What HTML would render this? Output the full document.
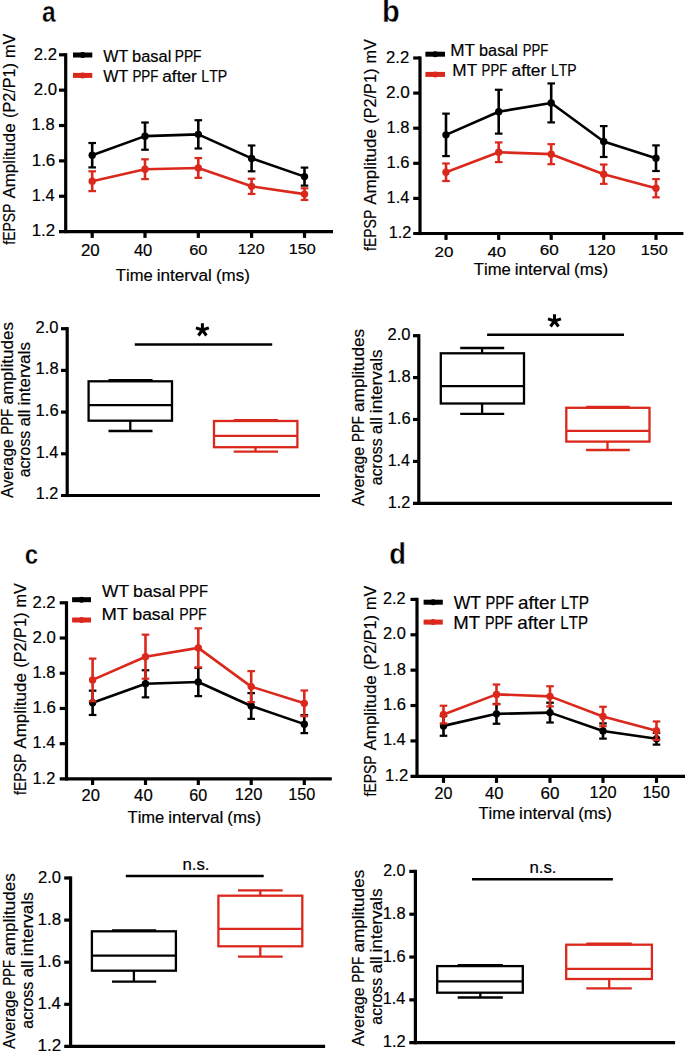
<!DOCTYPE html>
<html><head><meta charset="utf-8"><style>
html,body{margin:0;padding:0;background:#fff;}
svg{display:block;}
text{font-family:"Liberation Sans",sans-serif;font-kerning:none;stroke:currentColor;stroke-width:0.18px;}
text.b{stroke:#fff;stroke-width:0.4px;}
</style></head><body>
<svg width="685" height="1051" viewBox="0 0 685 1051">
<rect width="685" height="1051" fill="#fff"/>
<line x1="65.70" y1="53.20" x2="65.70" y2="233.20" stroke="#000" stroke-width="3.2" stroke-linecap="butt"/>
<line x1="59.00" y1="54.80" x2="65.70" y2="54.80" stroke="#000" stroke-width="3.2" stroke-linecap="butt"/>
<line x1="59.00" y1="90.16" x2="65.70" y2="90.16" stroke="#000" stroke-width="3.2" stroke-linecap="butt"/>
<line x1="59.00" y1="125.52" x2="65.70" y2="125.52" stroke="#000" stroke-width="3.2" stroke-linecap="butt"/>
<line x1="59.00" y1="160.88" x2="65.70" y2="160.88" stroke="#000" stroke-width="3.2" stroke-linecap="butt"/>
<line x1="59.00" y1="196.24" x2="65.70" y2="196.24" stroke="#000" stroke-width="3.2" stroke-linecap="butt"/>
<line x1="59.00" y1="231.60" x2="333.00" y2="231.60" stroke="#000" stroke-width="3.2" stroke-linecap="butt"/>
<line x1="92.20" y1="231.60" x2="92.20" y2="237.90" stroke="#000" stroke-width="3.2" stroke-linecap="butt"/>
<line x1="145.00" y1="231.60" x2="145.00" y2="237.90" stroke="#000" stroke-width="3.2" stroke-linecap="butt"/>
<line x1="198.30" y1="231.60" x2="198.30" y2="237.90" stroke="#000" stroke-width="3.2" stroke-linecap="butt"/>
<line x1="251.60" y1="231.60" x2="251.60" y2="237.90" stroke="#000" stroke-width="3.2" stroke-linecap="butt"/>
<line x1="304.50" y1="231.60" x2="304.50" y2="237.90" stroke="#000" stroke-width="3.2" stroke-linecap="butt"/>
<text x="33.76" y="59.55" font-size="16.13" textLength="23.18" lengthAdjust="spacingAndGlyphs" fill="#000" color="#000">2.2</text>
<text x="33.75" y="94.91" font-size="16.13" textLength="23.40" lengthAdjust="spacingAndGlyphs" fill="#000" color="#000">2.0</text>
<text x="31.64" y="130.27" font-size="16.13" textLength="22.98" lengthAdjust="spacingAndGlyphs" fill="#000" color="#000">1.8</text>
<text x="31.70" y="165.63" font-size="16.13" textLength="23.64" lengthAdjust="spacingAndGlyphs" fill="#000" color="#000">1.6</text>
<text x="31.75" y="200.99" font-size="16.13" textLength="22.83" lengthAdjust="spacingAndGlyphs" fill="#000" color="#000">1.4</text>
<text x="31.72" y="236.35" font-size="16.13" textLength="23.43" lengthAdjust="spacingAndGlyphs" fill="#000" color="#000">1.2</text>
<text x="80.95" y="255.70" font-size="15.99" textLength="18.81" lengthAdjust="spacingAndGlyphs" fill="#000" color="#000">20</text>
<text x="133.92" y="255.70" font-size="15.99" textLength="18.43" lengthAdjust="spacingAndGlyphs" fill="#000" color="#000">40</text>
<text x="189.17" y="255.30" font-size="15.41" textLength="18.28" lengthAdjust="spacingAndGlyphs" fill="#000" color="#000">60</text>
<text x="237.88" y="253.70" font-size="15.41" textLength="26.75" lengthAdjust="spacingAndGlyphs" fill="#000" color="#000">120</text>
<text x="288.66" y="253.70" font-size="14.68" textLength="27.07" lengthAdjust="spacingAndGlyphs" fill="#000" color="#000">150</text>
<line x1="73.00" y1="55.00" x2="92.30" y2="55.00" stroke="#000" stroke-width="5.0" stroke-linecap="butt"/>
<line x1="73.00" y1="75.40" x2="92.30" y2="75.40" stroke="#da291c" stroke-width="5.0" stroke-linecap="butt"/>
<circle cx="82.65" cy="55.00" r="3.0" fill="#000"/>
<circle cx="82.65" cy="75.40" r="3.0" fill="#da291c"/>
<text x="103.23" y="61.70" font-size="16.42" textLength="25.04" lengthAdjust="spacingAndGlyphs" fill="#000" color="#000">WT</text>
<text x="132.04" y="61.70" font-size="16.42" textLength="39.36" lengthAdjust="spacingAndGlyphs" fill="#000" color="#000">basal</text>
<text x="174.67" y="61.70" font-size="16.42" textLength="26.89" lengthAdjust="spacingAndGlyphs" fill="#000" color="#000">PPF</text>
<text x="103.23" y="81.90" font-size="16.42" textLength="25.04" lengthAdjust="spacingAndGlyphs" fill="#000" color="#000">WT</text>
<text x="132.40" y="81.90" font-size="16.42" textLength="26.03" lengthAdjust="spacingAndGlyphs" fill="#000" color="#000">PPF</text>
<text x="162.26" y="81.90" font-size="16.42" textLength="34.62" lengthAdjust="spacingAndGlyphs" fill="#000" color="#000">after</text>
<text x="201.34" y="81.90" font-size="16.42" textLength="25.90" lengthAdjust="spacingAndGlyphs" fill="#000" color="#000">LTP</text>
<polyline points="92.20,155.22 145.00,136.13 198.30,134.36 251.60,158.40 304.50,176.62" fill="none" stroke="#000" stroke-width="2.6" stroke-linejoin="round"/>
<line x1="92.20" y1="143.02" x2="92.20" y2="167.42" stroke="#000" stroke-width="2.6" stroke-linecap="butt"/>
<line x1="88.40" y1="143.02" x2="96.00" y2="143.02" stroke="#000" stroke-width="2.2" stroke-linecap="butt"/>
<line x1="88.40" y1="167.42" x2="96.00" y2="167.42" stroke="#000" stroke-width="2.2" stroke-linecap="butt"/>
<circle cx="92.20" cy="155.22" r="3.7" fill="#000"/>
<line x1="145.00" y1="122.51" x2="145.00" y2="149.74" stroke="#000" stroke-width="2.6" stroke-linecap="butt"/>
<line x1="141.20" y1="122.51" x2="148.80" y2="122.51" stroke="#000" stroke-width="2.2" stroke-linecap="butt"/>
<line x1="141.20" y1="149.74" x2="148.80" y2="149.74" stroke="#000" stroke-width="2.2" stroke-linecap="butt"/>
<circle cx="145.00" cy="136.13" r="3.7" fill="#000"/>
<line x1="198.30" y1="120.22" x2="198.30" y2="148.50" stroke="#000" stroke-width="2.6" stroke-linecap="butt"/>
<line x1="194.50" y1="120.22" x2="202.10" y2="120.22" stroke="#000" stroke-width="2.2" stroke-linecap="butt"/>
<line x1="194.50" y1="148.50" x2="202.10" y2="148.50" stroke="#000" stroke-width="2.2" stroke-linecap="butt"/>
<circle cx="198.30" cy="134.36" r="3.7" fill="#000"/>
<line x1="251.60" y1="145.50" x2="251.60" y2="171.31" stroke="#000" stroke-width="2.6" stroke-linecap="butt"/>
<line x1="247.80" y1="145.50" x2="255.40" y2="145.50" stroke="#000" stroke-width="2.2" stroke-linecap="butt"/>
<line x1="247.80" y1="171.31" x2="255.40" y2="171.31" stroke="#000" stroke-width="2.2" stroke-linecap="butt"/>
<circle cx="251.60" cy="158.40" r="3.7" fill="#000"/>
<line x1="304.50" y1="167.60" x2="304.50" y2="185.63" stroke="#000" stroke-width="2.6" stroke-linecap="butt"/>
<line x1="300.70" y1="167.60" x2="308.30" y2="167.60" stroke="#000" stroke-width="2.2" stroke-linecap="butt"/>
<line x1="300.70" y1="185.63" x2="308.30" y2="185.63" stroke="#000" stroke-width="2.2" stroke-linecap="butt"/>
<circle cx="304.50" cy="176.62" r="3.7" fill="#000"/>
<polyline points="92.20,181.21 145.00,169.19 198.30,167.95 251.60,186.34 304.50,194.12" fill="none" stroke="#da291c" stroke-width="2.6" stroke-linejoin="round"/>
<line x1="92.20" y1="171.31" x2="92.20" y2="191.11" stroke="#da291c" stroke-width="2.6" stroke-linecap="butt"/>
<line x1="88.40" y1="171.31" x2="96.00" y2="171.31" stroke="#da291c" stroke-width="2.2" stroke-linecap="butt"/>
<line x1="88.40" y1="191.11" x2="96.00" y2="191.11" stroke="#da291c" stroke-width="2.2" stroke-linecap="butt"/>
<circle cx="92.20" cy="181.21" r="3.7" fill="#da291c"/>
<line x1="145.00" y1="159.29" x2="145.00" y2="179.09" stroke="#da291c" stroke-width="2.6" stroke-linecap="butt"/>
<line x1="141.20" y1="159.29" x2="148.80" y2="159.29" stroke="#da291c" stroke-width="2.2" stroke-linecap="butt"/>
<line x1="141.20" y1="179.09" x2="148.80" y2="179.09" stroke="#da291c" stroke-width="2.2" stroke-linecap="butt"/>
<circle cx="145.00" cy="169.19" r="3.7" fill="#da291c"/>
<line x1="198.30" y1="158.05" x2="198.30" y2="177.85" stroke="#da291c" stroke-width="2.6" stroke-linecap="butt"/>
<line x1="194.50" y1="158.05" x2="202.10" y2="158.05" stroke="#da291c" stroke-width="2.2" stroke-linecap="butt"/>
<line x1="194.50" y1="177.85" x2="202.10" y2="177.85" stroke="#da291c" stroke-width="2.2" stroke-linecap="butt"/>
<circle cx="198.30" cy="167.95" r="3.7" fill="#da291c"/>
<line x1="251.60" y1="178.74" x2="251.60" y2="193.94" stroke="#da291c" stroke-width="2.6" stroke-linecap="butt"/>
<line x1="247.80" y1="178.74" x2="255.40" y2="178.74" stroke="#da291c" stroke-width="2.2" stroke-linecap="butt"/>
<line x1="247.80" y1="193.94" x2="255.40" y2="193.94" stroke="#da291c" stroke-width="2.2" stroke-linecap="butt"/>
<circle cx="251.60" cy="186.34" r="3.7" fill="#da291c"/>
<line x1="304.50" y1="188.28" x2="304.50" y2="199.95" stroke="#da291c" stroke-width="2.6" stroke-linecap="butt"/>
<line x1="300.70" y1="188.28" x2="308.30" y2="188.28" stroke="#da291c" stroke-width="2.2" stroke-linecap="butt"/>
<line x1="300.70" y1="199.95" x2="308.30" y2="199.95" stroke="#da291c" stroke-width="2.2" stroke-linecap="butt"/>
<circle cx="304.50" cy="194.12" r="3.7" fill="#da291c"/>
<text x="115.83" y="280.80" font-size="16.42" textLength="36.91" lengthAdjust="spacingAndGlyphs" fill="#000" color="#000">Time</text>
<text x="156.65" y="280.80" font-size="16.42" textLength="55.29" lengthAdjust="spacingAndGlyphs" fill="#000" color="#000">interval</text>
<text x="215.95" y="280.80" font-size="16.42" textLength="33.90" lengthAdjust="spacingAndGlyphs" fill="#000" color="#000">(ms)</text>
<text transform="translate(15.20,244.50) rotate(-90)" x="-0.20" y="0" font-size="15.84" textLength="41.13" lengthAdjust="spacingAndGlyphs" fill="#000" color="#000">fEPSP</text>
<text transform="translate(15.20,198.60) rotate(-90)" x="-0.03" y="0" font-size="15.84" textLength="75.29" lengthAdjust="spacingAndGlyphs" fill="#000" color="#000">Amplitude</text>
<text transform="translate(15.20,117.00) rotate(-90)" x="-1.01" y="0" font-size="15.84" textLength="55.01" lengthAdjust="spacingAndGlyphs" fill="#000" color="#000">(P2/P1)</text>
<text transform="translate(15.20,56.90) rotate(-90)" x="-1.07" y="0" font-size="15.84" textLength="24.24" lengthAdjust="spacingAndGlyphs" fill="#000" color="#000">mV</text>
<text x="41.88" y="21.90" font-size="29.53" font-weight="bold" class="b" textLength="13.66" lengthAdjust="spacingAndGlyphs" fill="#000" color="#000">a</text>
<line x1="420.00" y1="56.40" x2="420.00" y2="235.10" stroke="#000" stroke-width="3.2" stroke-linecap="butt"/>
<line x1="413.20" y1="58.00" x2="420.00" y2="58.00" stroke="#000" stroke-width="3.2" stroke-linecap="butt"/>
<line x1="413.20" y1="93.10" x2="420.00" y2="93.10" stroke="#000" stroke-width="3.2" stroke-linecap="butt"/>
<line x1="413.20" y1="128.20" x2="420.00" y2="128.20" stroke="#000" stroke-width="3.2" stroke-linecap="butt"/>
<line x1="413.20" y1="163.30" x2="420.00" y2="163.30" stroke="#000" stroke-width="3.2" stroke-linecap="butt"/>
<line x1="413.20" y1="198.40" x2="420.00" y2="198.40" stroke="#000" stroke-width="3.2" stroke-linecap="butt"/>
<line x1="413.20" y1="233.50" x2="683.40" y2="233.50" stroke="#000" stroke-width="3.2" stroke-linecap="butt"/>
<line x1="446.00" y1="233.50" x2="446.00" y2="239.90" stroke="#000" stroke-width="3.2" stroke-linecap="butt"/>
<line x1="498.70" y1="233.50" x2="498.70" y2="239.90" stroke="#000" stroke-width="3.2" stroke-linecap="butt"/>
<line x1="551.20" y1="233.50" x2="551.20" y2="239.90" stroke="#000" stroke-width="3.2" stroke-linecap="butt"/>
<line x1="603.70" y1="233.50" x2="603.70" y2="239.90" stroke="#000" stroke-width="3.2" stroke-linecap="butt"/>
<line x1="656.00" y1="233.50" x2="656.00" y2="239.90" stroke="#000" stroke-width="3.2" stroke-linecap="butt"/>
<text x="386.06" y="62.65" font-size="16.13" textLength="23.18" lengthAdjust="spacingAndGlyphs" fill="#000" color="#000">2.2</text>
<text x="386.04" y="97.75" font-size="16.13" textLength="23.83" lengthAdjust="spacingAndGlyphs" fill="#000" color="#000">2.0</text>
<text x="386.54" y="132.85" font-size="16.13" textLength="22.98" lengthAdjust="spacingAndGlyphs" fill="#000" color="#000">1.8</text>
<text x="386.54" y="167.95" font-size="16.13" textLength="22.99" lengthAdjust="spacingAndGlyphs" fill="#000" color="#000">1.6</text>
<text x="386.55" y="203.05" font-size="16.13" textLength="22.72" lengthAdjust="spacingAndGlyphs" fill="#000" color="#000">1.4</text>
<text x="388.66" y="238.15" font-size="16.13" textLength="22.66" lengthAdjust="spacingAndGlyphs" fill="#000" color="#000">1.2</text>
<text x="434.44" y="257.10" font-size="15.41" textLength="18.92" lengthAdjust="spacingAndGlyphs" fill="#000" color="#000">20</text>
<text x="487.42" y="257.10" font-size="14.83" textLength="18.64" lengthAdjust="spacingAndGlyphs" fill="#000" color="#000">40</text>
<text x="539.73" y="254.50" font-size="14.68" textLength="19.04" lengthAdjust="spacingAndGlyphs" fill="#000" color="#000">60</text>
<text x="587.73" y="254.80" font-size="15.41" textLength="27.71" lengthAdjust="spacingAndGlyphs" fill="#000" color="#000">120</text>
<text x="640.76" y="254.80" font-size="15.41" textLength="27.07" lengthAdjust="spacingAndGlyphs" fill="#000" color="#000">150</text>
<line x1="425.40" y1="54.20" x2="445.00" y2="54.20" stroke="#000" stroke-width="5.0" stroke-linecap="butt"/>
<line x1="425.40" y1="74.40" x2="445.00" y2="74.40" stroke="#da291c" stroke-width="5.0" stroke-linecap="butt"/>
<circle cx="435.20" cy="54.20" r="3.0" fill="#000"/>
<circle cx="435.20" cy="74.40" r="3.0" fill="#da291c"/>
<text x="450.19" y="56.10" font-size="16.13" textLength="24.80" lengthAdjust="spacingAndGlyphs" fill="#000" color="#000">MT</text>
<text x="479.05" y="56.10" font-size="16.13" textLength="38.94" lengthAdjust="spacingAndGlyphs" fill="#000" color="#000">basal</text>
<text x="522.72" y="56.10" font-size="16.13" textLength="25.61" lengthAdjust="spacingAndGlyphs" fill="#000" color="#000">PPF</text>
<text x="452.39" y="76.10" font-size="16.13" textLength="24.80" lengthAdjust="spacingAndGlyphs" fill="#000" color="#000">MT</text>
<text x="481.62" y="76.10" font-size="16.13" textLength="25.61" lengthAdjust="spacingAndGlyphs" fill="#000" color="#000">PPF</text>
<text x="511.46" y="76.10" font-size="16.13" textLength="34.83" lengthAdjust="spacingAndGlyphs" fill="#000" color="#000">after</text>
<text x="551.06" y="76.10" font-size="16.13" textLength="25.58" lengthAdjust="spacingAndGlyphs" fill="#000" color="#000">LTP</text>
<polyline points="446.00,134.87 498.70,111.70 551.20,102.93 603.70,141.54 656.00,158.21" fill="none" stroke="#000" stroke-width="2.6" stroke-linejoin="round"/>
<line x1="446.00" y1="113.63" x2="446.00" y2="156.10" stroke="#000" stroke-width="2.6" stroke-linecap="butt"/>
<line x1="442.20" y1="113.63" x2="449.80" y2="113.63" stroke="#000" stroke-width="2.2" stroke-linecap="butt"/>
<line x1="442.20" y1="156.10" x2="449.80" y2="156.10" stroke="#000" stroke-width="2.2" stroke-linecap="butt"/>
<circle cx="446.00" cy="134.87" r="3.7" fill="#000"/>
<line x1="498.70" y1="89.77" x2="498.70" y2="133.64" stroke="#000" stroke-width="2.6" stroke-linecap="butt"/>
<line x1="494.90" y1="89.77" x2="502.50" y2="89.77" stroke="#000" stroke-width="2.2" stroke-linecap="butt"/>
<line x1="494.90" y1="133.64" x2="502.50" y2="133.64" stroke="#000" stroke-width="2.2" stroke-linecap="butt"/>
<circle cx="498.70" cy="111.70" r="3.7" fill="#000"/>
<line x1="551.20" y1="83.45" x2="551.20" y2="122.41" stroke="#000" stroke-width="2.6" stroke-linecap="butt"/>
<line x1="547.40" y1="83.45" x2="555.00" y2="83.45" stroke="#000" stroke-width="2.2" stroke-linecap="butt"/>
<line x1="547.40" y1="122.41" x2="555.00" y2="122.41" stroke="#000" stroke-width="2.2" stroke-linecap="butt"/>
<circle cx="551.20" cy="102.93" r="3.7" fill="#000"/>
<line x1="603.70" y1="126.09" x2="603.70" y2="156.98" stroke="#000" stroke-width="2.6" stroke-linecap="butt"/>
<line x1="599.90" y1="126.09" x2="607.50" y2="126.09" stroke="#000" stroke-width="2.2" stroke-linecap="butt"/>
<line x1="599.90" y1="156.98" x2="607.50" y2="156.98" stroke="#000" stroke-width="2.2" stroke-linecap="butt"/>
<circle cx="603.70" cy="141.54" r="3.7" fill="#000"/>
<line x1="656.00" y1="145.40" x2="656.00" y2="171.02" stroke="#000" stroke-width="2.6" stroke-linecap="butt"/>
<line x1="652.20" y1="145.40" x2="659.80" y2="145.40" stroke="#000" stroke-width="2.2" stroke-linecap="butt"/>
<line x1="652.20" y1="171.02" x2="659.80" y2="171.02" stroke="#000" stroke-width="2.2" stroke-linecap="butt"/>
<circle cx="656.00" cy="158.21" r="3.7" fill="#000"/>
<polyline points="446.00,172.25 498.70,152.24 551.20,154.17 603.70,174.18 656.00,188.22" fill="none" stroke="#da291c" stroke-width="2.6" stroke-linejoin="round"/>
<line x1="446.00" y1="163.48" x2="446.00" y2="181.03" stroke="#da291c" stroke-width="2.6" stroke-linecap="butt"/>
<line x1="442.20" y1="163.48" x2="449.80" y2="163.48" stroke="#da291c" stroke-width="2.2" stroke-linecap="butt"/>
<line x1="442.20" y1="181.03" x2="449.80" y2="181.03" stroke="#da291c" stroke-width="2.2" stroke-linecap="butt"/>
<circle cx="446.00" cy="172.25" r="3.7" fill="#da291c"/>
<line x1="498.70" y1="142.42" x2="498.70" y2="162.07" stroke="#da291c" stroke-width="2.6" stroke-linecap="butt"/>
<line x1="494.90" y1="142.42" x2="502.50" y2="142.42" stroke="#da291c" stroke-width="2.2" stroke-linecap="butt"/>
<line x1="494.90" y1="162.07" x2="502.50" y2="162.07" stroke="#da291c" stroke-width="2.2" stroke-linecap="butt"/>
<circle cx="498.70" cy="152.24" r="3.7" fill="#da291c"/>
<line x1="551.20" y1="144.17" x2="551.20" y2="164.18" stroke="#da291c" stroke-width="2.6" stroke-linecap="butt"/>
<line x1="547.40" y1="144.17" x2="555.00" y2="144.17" stroke="#da291c" stroke-width="2.2" stroke-linecap="butt"/>
<line x1="547.40" y1="164.18" x2="555.00" y2="164.18" stroke="#da291c" stroke-width="2.2" stroke-linecap="butt"/>
<circle cx="551.20" cy="154.17" r="3.7" fill="#da291c"/>
<line x1="603.70" y1="164.53" x2="603.70" y2="183.83" stroke="#da291c" stroke-width="2.6" stroke-linecap="butt"/>
<line x1="599.90" y1="164.53" x2="607.50" y2="164.53" stroke="#da291c" stroke-width="2.2" stroke-linecap="butt"/>
<line x1="599.90" y1="183.83" x2="607.50" y2="183.83" stroke="#da291c" stroke-width="2.2" stroke-linecap="butt"/>
<circle cx="603.70" cy="174.18" r="3.7" fill="#da291c"/>
<line x1="656.00" y1="179.09" x2="656.00" y2="197.35" stroke="#da291c" stroke-width="2.6" stroke-linecap="butt"/>
<line x1="652.20" y1="179.09" x2="659.80" y2="179.09" stroke="#da291c" stroke-width="2.2" stroke-linecap="butt"/>
<line x1="652.20" y1="197.35" x2="659.80" y2="197.35" stroke="#da291c" stroke-width="2.2" stroke-linecap="butt"/>
<circle cx="656.00" cy="188.22" r="3.7" fill="#da291c"/>
<text x="473.83" y="275.10" font-size="16.28" textLength="36.97" lengthAdjust="spacingAndGlyphs" fill="#000" color="#000">Time</text>
<text x="514.71" y="275.10" font-size="16.28" textLength="55.38" lengthAdjust="spacingAndGlyphs" fill="#000" color="#000">interval</text>
<text x="574.10" y="275.10" font-size="16.28" textLength="33.95" lengthAdjust="spacingAndGlyphs" fill="#000" color="#000">(ms)</text>
<text transform="translate(375.60,250.80) rotate(-90)" x="-0.20" y="0" font-size="15.99" textLength="41.31" lengthAdjust="spacingAndGlyphs" fill="#000" color="#000">fEPSP</text>
<text transform="translate(375.60,204.70) rotate(-90)" x="-0.03" y="0" font-size="15.99" textLength="75.61" lengthAdjust="spacingAndGlyphs" fill="#000" color="#000">Amplitude</text>
<text transform="translate(375.60,122.76) rotate(-90)" x="-1.01" y="0" font-size="15.99" textLength="55.25" lengthAdjust="spacingAndGlyphs" fill="#000" color="#000">(P2/P1)</text>
<text transform="translate(375.60,62.40) rotate(-90)" x="-1.08" y="0" font-size="15.99" textLength="24.35" lengthAdjust="spacingAndGlyphs" fill="#000" color="#000">mV</text>
<text x="382.09" y="21.90" font-size="31.83" font-weight="bold" class="b" textLength="17.70" lengthAdjust="spacingAndGlyphs" fill="#000" color="#000">b</text>
<line x1="66.50" y1="601.20" x2="66.50" y2="780.50" stroke="#000" stroke-width="3.2" stroke-linecap="butt"/>
<line x1="59.70" y1="602.80" x2="66.50" y2="602.80" stroke="#000" stroke-width="3.2" stroke-linecap="butt"/>
<line x1="59.70" y1="638.02" x2="66.50" y2="638.02" stroke="#000" stroke-width="3.2" stroke-linecap="butt"/>
<line x1="59.70" y1="673.24" x2="66.50" y2="673.24" stroke="#000" stroke-width="3.2" stroke-linecap="butt"/>
<line x1="59.70" y1="708.46" x2="66.50" y2="708.46" stroke="#000" stroke-width="3.2" stroke-linecap="butt"/>
<line x1="59.70" y1="743.68" x2="66.50" y2="743.68" stroke="#000" stroke-width="3.2" stroke-linecap="butt"/>
<line x1="59.70" y1="778.90" x2="331.80" y2="778.90" stroke="#000" stroke-width="3.2" stroke-linecap="butt"/>
<line x1="92.60" y1="778.90" x2="92.60" y2="785.00" stroke="#000" stroke-width="3.2" stroke-linecap="butt"/>
<line x1="145.50" y1="778.90" x2="145.50" y2="785.00" stroke="#000" stroke-width="3.2" stroke-linecap="butt"/>
<line x1="198.30" y1="778.90" x2="198.30" y2="785.00" stroke="#000" stroke-width="3.2" stroke-linecap="butt"/>
<line x1="251.20" y1="778.90" x2="251.20" y2="785.00" stroke="#000" stroke-width="3.2" stroke-linecap="butt"/>
<line x1="304.30" y1="778.90" x2="304.30" y2="785.00" stroke="#000" stroke-width="3.2" stroke-linecap="butt"/>
<text x="32.46" y="607.60" font-size="16.13" textLength="23.18" lengthAdjust="spacingAndGlyphs" fill="#000" color="#000">2.2</text>
<text x="32.45" y="642.82" font-size="16.13" textLength="23.40" lengthAdjust="spacingAndGlyphs" fill="#000" color="#000">2.0</text>
<text x="32.54" y="678.04" font-size="16.13" textLength="22.98" lengthAdjust="spacingAndGlyphs" fill="#000" color="#000">1.8</text>
<text x="32.52" y="713.26" font-size="16.13" textLength="23.42" lengthAdjust="spacingAndGlyphs" fill="#000" color="#000">1.6</text>
<text x="32.55" y="748.48" font-size="16.13" textLength="22.72" lengthAdjust="spacingAndGlyphs" fill="#000" color="#000">1.4</text>
<text x="32.56" y="783.70" font-size="16.13" textLength="22.66" lengthAdjust="spacingAndGlyphs" fill="#000" color="#000">1.2</text>
<text x="81.57" y="800.60" font-size="16.28" textLength="18.38" lengthAdjust="spacingAndGlyphs" fill="#000" color="#000">20</text>
<text x="134.12" y="800.60" font-size="16.28" textLength="18.64" lengthAdjust="spacingAndGlyphs" fill="#000" color="#000">40</text>
<text x="189.28" y="800.60" font-size="16.28" textLength="17.95" lengthAdjust="spacingAndGlyphs" fill="#000" color="#000">60</text>
<text x="234.84" y="800.40" font-size="16.13" textLength="27.61" lengthAdjust="spacingAndGlyphs" fill="#000" color="#000">120</text>
<text x="288.16" y="800.40" font-size="16.13" textLength="27.07" lengthAdjust="spacingAndGlyphs" fill="#000" color="#000">150</text>
<line x1="72.10" y1="599.70" x2="91.00" y2="599.70" stroke="#000" stroke-width="5.0" stroke-linecap="butt"/>
<line x1="72.10" y1="620.00" x2="91.00" y2="620.00" stroke="#da291c" stroke-width="5.0" stroke-linecap="butt"/>
<circle cx="81.55" cy="599.70" r="3.0" fill="#000"/>
<circle cx="81.55" cy="620.00" r="3.0" fill="#da291c"/>
<text x="102.12" y="597.40" font-size="16.86" textLength="26.96" lengthAdjust="spacingAndGlyphs" fill="#000" color="#000">WT</text>
<text x="133.14" y="597.40" font-size="16.86" textLength="42.38" lengthAdjust="spacingAndGlyphs" fill="#000" color="#000">basal</text>
<text x="179.04" y="597.40" font-size="16.86" textLength="28.95" lengthAdjust="spacingAndGlyphs" fill="#000" color="#000">PPF</text>
<text x="101.49" y="619.80" font-size="16.86" textLength="26.61" lengthAdjust="spacingAndGlyphs" fill="#000" color="#000">MT</text>
<text x="132.45" y="619.80" font-size="16.86" textLength="41.77" lengthAdjust="spacingAndGlyphs" fill="#000" color="#000">basal</text>
<text x="179.29" y="619.80" font-size="16.86" textLength="27.47" lengthAdjust="spacingAndGlyphs" fill="#000" color="#000">PPF</text>
<polyline points="92.60,702.82 145.50,683.81 198.30,682.04 251.20,705.99 304.30,724.13" fill="none" stroke="#000" stroke-width="2.6" stroke-linejoin="round"/>
<line x1="92.60" y1="690.67" x2="92.60" y2="714.98" stroke="#000" stroke-width="2.6" stroke-linecap="butt"/>
<line x1="88.80" y1="690.67" x2="96.40" y2="690.67" stroke="#000" stroke-width="2.2" stroke-linecap="butt"/>
<line x1="88.80" y1="714.98" x2="96.40" y2="714.98" stroke="#000" stroke-width="2.2" stroke-linecap="butt"/>
<circle cx="92.60" cy="702.82" r="3.7" fill="#000"/>
<line x1="145.50" y1="670.25" x2="145.50" y2="697.37" stroke="#000" stroke-width="2.6" stroke-linecap="butt"/>
<line x1="141.70" y1="670.25" x2="149.30" y2="670.25" stroke="#000" stroke-width="2.2" stroke-linecap="butt"/>
<line x1="141.70" y1="697.37" x2="149.30" y2="697.37" stroke="#000" stroke-width="2.2" stroke-linecap="butt"/>
<circle cx="145.50" cy="683.81" r="3.7" fill="#000"/>
<line x1="198.30" y1="667.96" x2="198.30" y2="696.13" stroke="#000" stroke-width="2.6" stroke-linecap="butt"/>
<line x1="194.50" y1="667.96" x2="202.10" y2="667.96" stroke="#000" stroke-width="2.2" stroke-linecap="butt"/>
<line x1="194.50" y1="696.13" x2="202.10" y2="696.13" stroke="#000" stroke-width="2.2" stroke-linecap="butt"/>
<circle cx="198.30" cy="682.04" r="3.7" fill="#000"/>
<line x1="251.20" y1="693.14" x2="251.20" y2="718.85" stroke="#000" stroke-width="2.6" stroke-linecap="butt"/>
<line x1="247.40" y1="693.14" x2="255.00" y2="693.14" stroke="#000" stroke-width="2.2" stroke-linecap="butt"/>
<line x1="247.40" y1="718.85" x2="255.00" y2="718.85" stroke="#000" stroke-width="2.2" stroke-linecap="butt"/>
<circle cx="251.20" cy="705.99" r="3.7" fill="#000"/>
<line x1="304.30" y1="715.15" x2="304.30" y2="733.11" stroke="#000" stroke-width="2.6" stroke-linecap="butt"/>
<line x1="300.50" y1="715.15" x2="308.10" y2="715.15" stroke="#000" stroke-width="2.2" stroke-linecap="butt"/>
<line x1="300.50" y1="733.11" x2="308.10" y2="733.11" stroke="#000" stroke-width="2.2" stroke-linecap="butt"/>
<circle cx="304.30" cy="724.13" r="3.7" fill="#000"/>
<polyline points="92.60,679.93 145.50,656.69 198.30,647.88 251.20,686.62 304.30,703.35" fill="none" stroke="#da291c" stroke-width="2.6" stroke-linejoin="round"/>
<line x1="92.60" y1="658.62" x2="92.60" y2="701.24" stroke="#da291c" stroke-width="2.6" stroke-linecap="butt"/>
<line x1="88.80" y1="658.62" x2="96.40" y2="658.62" stroke="#da291c" stroke-width="2.2" stroke-linecap="butt"/>
<line x1="88.80" y1="701.24" x2="96.40" y2="701.24" stroke="#da291c" stroke-width="2.2" stroke-linecap="butt"/>
<circle cx="92.60" cy="679.93" r="3.7" fill="#da291c"/>
<line x1="145.50" y1="634.67" x2="145.50" y2="678.70" stroke="#da291c" stroke-width="2.6" stroke-linecap="butt"/>
<line x1="141.70" y1="634.67" x2="149.30" y2="634.67" stroke="#da291c" stroke-width="2.2" stroke-linecap="butt"/>
<line x1="141.70" y1="678.70" x2="149.30" y2="678.70" stroke="#da291c" stroke-width="2.2" stroke-linecap="butt"/>
<circle cx="145.50" cy="656.69" r="3.7" fill="#da291c"/>
<line x1="198.30" y1="628.33" x2="198.30" y2="667.43" stroke="#da291c" stroke-width="2.6" stroke-linecap="butt"/>
<line x1="194.50" y1="628.33" x2="202.10" y2="628.33" stroke="#da291c" stroke-width="2.2" stroke-linecap="butt"/>
<line x1="194.50" y1="667.43" x2="202.10" y2="667.43" stroke="#da291c" stroke-width="2.2" stroke-linecap="butt"/>
<circle cx="198.30" cy="647.88" r="3.7" fill="#da291c"/>
<line x1="251.20" y1="671.13" x2="251.20" y2="702.12" stroke="#da291c" stroke-width="2.6" stroke-linecap="butt"/>
<line x1="247.40" y1="671.13" x2="255.00" y2="671.13" stroke="#da291c" stroke-width="2.2" stroke-linecap="butt"/>
<line x1="247.40" y1="702.12" x2="255.00" y2="702.12" stroke="#da291c" stroke-width="2.2" stroke-linecap="butt"/>
<circle cx="251.20" cy="686.62" r="3.7" fill="#da291c"/>
<line x1="304.30" y1="690.50" x2="304.30" y2="716.21" stroke="#da291c" stroke-width="2.6" stroke-linecap="butt"/>
<line x1="300.50" y1="690.50" x2="308.10" y2="690.50" stroke="#da291c" stroke-width="2.2" stroke-linecap="butt"/>
<line x1="300.50" y1="716.21" x2="308.10" y2="716.21" stroke="#da291c" stroke-width="2.2" stroke-linecap="butt"/>
<circle cx="304.30" cy="703.35" r="3.7" fill="#da291c"/>
<text x="127.53" y="823.20" font-size="16.57" textLength="36.80" lengthAdjust="spacingAndGlyphs" fill="#000" color="#000">Time</text>
<text x="168.23" y="823.20" font-size="16.57" textLength="55.13" lengthAdjust="spacingAndGlyphs" fill="#000" color="#000">interval</text>
<text x="227.35" y="823.20" font-size="16.57" textLength="33.80" lengthAdjust="spacingAndGlyphs" fill="#000" color="#000">(ms)</text>
<text transform="translate(25.80,794.70) rotate(-90)" x="-0.20" y="0" font-size="15.99" textLength="41.27" lengthAdjust="spacingAndGlyphs" fill="#000" color="#000">fEPSP</text>
<text transform="translate(25.80,748.65) rotate(-90)" x="-0.03" y="0" font-size="15.99" textLength="75.54" lengthAdjust="spacingAndGlyphs" fill="#000" color="#000">Amplitude</text>
<text transform="translate(25.80,666.78) rotate(-90)" x="-1.01" y="0" font-size="15.99" textLength="55.20" lengthAdjust="spacingAndGlyphs" fill="#000" color="#000">(P2/P1)</text>
<text transform="translate(25.80,606.48) rotate(-90)" x="-1.08" y="0" font-size="15.99" textLength="24.32" lengthAdjust="spacingAndGlyphs" fill="#000" color="#000">mV</text>
<text x="24.86" y="564.00" font-size="28.39" font-weight="bold" class="b" textLength="13.34" lengthAdjust="spacingAndGlyphs" fill="#000" color="#000">c</text>
<line x1="417.00" y1="597.80" x2="417.00" y2="777.90" stroke="#000" stroke-width="3.2" stroke-linecap="butt"/>
<line x1="410.50" y1="599.40" x2="417.00" y2="599.40" stroke="#000" stroke-width="3.2" stroke-linecap="butt"/>
<line x1="410.50" y1="634.78" x2="417.00" y2="634.78" stroke="#000" stroke-width="3.2" stroke-linecap="butt"/>
<line x1="410.50" y1="670.16" x2="417.00" y2="670.16" stroke="#000" stroke-width="3.2" stroke-linecap="butt"/>
<line x1="410.50" y1="705.54" x2="417.00" y2="705.54" stroke="#000" stroke-width="3.2" stroke-linecap="butt"/>
<line x1="410.50" y1="740.92" x2="417.00" y2="740.92" stroke="#000" stroke-width="3.2" stroke-linecap="butt"/>
<line x1="410.50" y1="776.30" x2="685.00" y2="776.30" stroke="#000" stroke-width="3.2" stroke-linecap="butt"/>
<line x1="443.50" y1="776.30" x2="443.50" y2="782.90" stroke="#000" stroke-width="3.2" stroke-linecap="butt"/>
<line x1="496.50" y1="776.30" x2="496.50" y2="782.90" stroke="#000" stroke-width="3.2" stroke-linecap="butt"/>
<line x1="550.00" y1="776.30" x2="550.00" y2="782.90" stroke="#000" stroke-width="3.2" stroke-linecap="butt"/>
<line x1="603.00" y1="776.30" x2="603.00" y2="782.90" stroke="#000" stroke-width="3.2" stroke-linecap="butt"/>
<line x1="656.50" y1="776.30" x2="656.50" y2="782.90" stroke="#000" stroke-width="3.2" stroke-linecap="butt"/>
<text x="382.98" y="603.85" font-size="16.13" textLength="22.64" lengthAdjust="spacingAndGlyphs" fill="#000" color="#000">2.2</text>
<text x="382.97" y="639.23" font-size="16.13" textLength="22.87" lengthAdjust="spacingAndGlyphs" fill="#000" color="#000">2.0</text>
<text x="382.94" y="674.61" font-size="16.13" textLength="22.98" lengthAdjust="spacingAndGlyphs" fill="#000" color="#000">1.8</text>
<text x="382.94" y="709.99" font-size="16.13" textLength="22.99" lengthAdjust="spacingAndGlyphs" fill="#000" color="#000">1.6</text>
<text x="382.95" y="745.37" font-size="16.13" textLength="22.72" lengthAdjust="spacingAndGlyphs" fill="#000" color="#000">1.4</text>
<text x="385.03" y="780.75" font-size="16.13" textLength="23.21" lengthAdjust="spacingAndGlyphs" fill="#000" color="#000">1.2</text>
<text x="434.59" y="798.50" font-size="15.99" textLength="17.83" lengthAdjust="spacingAndGlyphs" fill="#000" color="#000">20</text>
<text x="485.12" y="798.50" font-size="15.99" textLength="18.43" lengthAdjust="spacingAndGlyphs" fill="#000" color="#000">40</text>
<text x="540.44" y="798.50" font-size="15.99" textLength="18.93" lengthAdjust="spacingAndGlyphs" fill="#000" color="#000">60</text>
<text x="589.46" y="797.90" font-size="15.70" textLength="27.18" lengthAdjust="spacingAndGlyphs" fill="#000" color="#000">120</text>
<text x="642.45" y="797.90" font-size="15.70" textLength="27.39" lengthAdjust="spacingAndGlyphs" fill="#000" color="#000">150</text>
<line x1="423.60" y1="602.20" x2="442.80" y2="602.20" stroke="#000" stroke-width="5.0" stroke-linecap="butt"/>
<line x1="423.60" y1="622.10" x2="442.80" y2="622.10" stroke="#da291c" stroke-width="5.0" stroke-linecap="butt"/>
<circle cx="433.20" cy="602.20" r="3.0" fill="#000"/>
<circle cx="433.20" cy="622.10" r="3.0" fill="#da291c"/>
<text x="453.72" y="608.80" font-size="17.44" textLength="27.30" lengthAdjust="spacingAndGlyphs" fill="#000" color="#000">WT</text>
<text x="485.52" y="608.80" font-size="17.44" textLength="28.38" lengthAdjust="spacingAndGlyphs" fill="#000" color="#000">PPF</text>
<text x="518.08" y="608.80" font-size="17.44" textLength="37.74" lengthAdjust="spacingAndGlyphs" fill="#000" color="#000">after</text>
<text x="560.67" y="608.80" font-size="17.44" textLength="28.24" lengthAdjust="spacingAndGlyphs" fill="#000" color="#000">LTP</text>
<text x="453.37" y="628.70" font-size="17.44" textLength="26.88" lengthAdjust="spacingAndGlyphs" fill="#000" color="#000">MT</text>
<text x="485.04" y="628.70" font-size="17.44" textLength="27.75" lengthAdjust="spacingAndGlyphs" fill="#000" color="#000">PPF</text>
<text x="517.38" y="628.70" font-size="17.44" textLength="37.74" lengthAdjust="spacingAndGlyphs" fill="#000" color="#000">after</text>
<text x="560.28" y="628.70" font-size="17.44" textLength="27.72" lengthAdjust="spacingAndGlyphs" fill="#000" color="#000">LTP</text>
<polyline points="443.50,725.88 496.50,713.85 550.00,712.62 603.00,731.01 656.50,738.80" fill="none" stroke="#000" stroke-width="2.6" stroke-linejoin="round"/>
<line x1="443.50" y1="715.98" x2="443.50" y2="735.79" stroke="#000" stroke-width="2.6" stroke-linecap="butt"/>
<line x1="439.70" y1="715.98" x2="447.30" y2="715.98" stroke="#000" stroke-width="2.2" stroke-linecap="butt"/>
<line x1="439.70" y1="735.79" x2="447.30" y2="735.79" stroke="#000" stroke-width="2.2" stroke-linecap="butt"/>
<circle cx="443.50" cy="725.88" r="3.7" fill="#000"/>
<line x1="496.50" y1="703.95" x2="496.50" y2="723.76" stroke="#000" stroke-width="2.6" stroke-linecap="butt"/>
<line x1="492.70" y1="703.95" x2="500.30" y2="703.95" stroke="#000" stroke-width="2.2" stroke-linecap="butt"/>
<line x1="492.70" y1="723.76" x2="500.30" y2="723.76" stroke="#000" stroke-width="2.2" stroke-linecap="butt"/>
<circle cx="496.50" cy="713.85" r="3.7" fill="#000"/>
<line x1="550.00" y1="702.71" x2="550.00" y2="722.52" stroke="#000" stroke-width="2.6" stroke-linecap="butt"/>
<line x1="546.20" y1="702.71" x2="553.80" y2="702.71" stroke="#000" stroke-width="2.2" stroke-linecap="butt"/>
<line x1="546.20" y1="722.52" x2="553.80" y2="722.52" stroke="#000" stroke-width="2.2" stroke-linecap="butt"/>
<circle cx="550.00" cy="712.62" r="3.7" fill="#000"/>
<line x1="603.00" y1="723.41" x2="603.00" y2="738.62" stroke="#000" stroke-width="2.6" stroke-linecap="butt"/>
<line x1="599.20" y1="723.41" x2="606.80" y2="723.41" stroke="#000" stroke-width="2.2" stroke-linecap="butt"/>
<line x1="599.20" y1="738.62" x2="606.80" y2="738.62" stroke="#000" stroke-width="2.2" stroke-linecap="butt"/>
<circle cx="603.00" cy="731.01" r="3.7" fill="#000"/>
<line x1="656.50" y1="732.96" x2="656.50" y2="744.63" stroke="#000" stroke-width="2.6" stroke-linecap="butt"/>
<line x1="652.70" y1="732.96" x2="660.30" y2="732.96" stroke="#000" stroke-width="2.2" stroke-linecap="butt"/>
<line x1="652.70" y1="744.63" x2="660.30" y2="744.63" stroke="#000" stroke-width="2.2" stroke-linecap="butt"/>
<circle cx="656.50" cy="738.80" r="3.7" fill="#000"/>
<polyline points="443.50,714.56 496.50,694.40 550.00,696.34 603.00,716.51 656.50,730.66" fill="none" stroke="#da291c" stroke-width="2.6" stroke-linejoin="round"/>
<line x1="443.50" y1="705.72" x2="443.50" y2="723.41" stroke="#da291c" stroke-width="2.6" stroke-linecap="butt"/>
<line x1="439.70" y1="705.72" x2="447.30" y2="705.72" stroke="#da291c" stroke-width="2.2" stroke-linecap="butt"/>
<line x1="439.70" y1="723.41" x2="447.30" y2="723.41" stroke="#da291c" stroke-width="2.2" stroke-linecap="butt"/>
<circle cx="443.50" cy="714.56" r="3.7" fill="#da291c"/>
<line x1="496.50" y1="684.49" x2="496.50" y2="704.30" stroke="#da291c" stroke-width="2.6" stroke-linecap="butt"/>
<line x1="492.70" y1="684.49" x2="500.30" y2="684.49" stroke="#da291c" stroke-width="2.2" stroke-linecap="butt"/>
<line x1="492.70" y1="704.30" x2="500.30" y2="704.30" stroke="#da291c" stroke-width="2.2" stroke-linecap="butt"/>
<circle cx="496.50" cy="694.40" r="3.7" fill="#da291c"/>
<line x1="550.00" y1="686.26" x2="550.00" y2="706.42" stroke="#da291c" stroke-width="2.6" stroke-linecap="butt"/>
<line x1="546.20" y1="686.26" x2="553.80" y2="686.26" stroke="#da291c" stroke-width="2.2" stroke-linecap="butt"/>
<line x1="546.20" y1="706.42" x2="553.80" y2="706.42" stroke="#da291c" stroke-width="2.2" stroke-linecap="butt"/>
<circle cx="550.00" cy="696.34" r="3.7" fill="#da291c"/>
<line x1="603.00" y1="706.78" x2="603.00" y2="726.24" stroke="#da291c" stroke-width="2.6" stroke-linecap="butt"/>
<line x1="599.20" y1="706.78" x2="606.80" y2="706.78" stroke="#da291c" stroke-width="2.2" stroke-linecap="butt"/>
<line x1="599.20" y1="726.24" x2="606.80" y2="726.24" stroke="#da291c" stroke-width="2.2" stroke-linecap="butt"/>
<circle cx="603.00" cy="716.51" r="3.7" fill="#da291c"/>
<line x1="656.50" y1="721.46" x2="656.50" y2="739.86" stroke="#da291c" stroke-width="2.6" stroke-linecap="butt"/>
<line x1="652.70" y1="721.46" x2="660.30" y2="721.46" stroke="#da291c" stroke-width="2.2" stroke-linecap="butt"/>
<line x1="652.70" y1="739.86" x2="660.30" y2="739.86" stroke="#da291c" stroke-width="2.2" stroke-linecap="butt"/>
<circle cx="656.50" cy="730.66" r="3.7" fill="#da291c"/>
<text x="478.43" y="819.00" font-size="16.42" textLength="36.77" lengthAdjust="spacingAndGlyphs" fill="#000" color="#000">Time</text>
<text x="519.10" y="819.00" font-size="16.42" textLength="55.09" lengthAdjust="spacingAndGlyphs" fill="#000" color="#000">interval</text>
<text x="578.17" y="819.00" font-size="16.42" textLength="33.78" lengthAdjust="spacingAndGlyphs" fill="#000" color="#000">(ms)</text>
<text transform="translate(376.00,796.20) rotate(-90)" x="-0.20" y="0" font-size="15.99" textLength="41.06" lengthAdjust="spacingAndGlyphs" fill="#000" color="#000">fEPSP</text>
<text transform="translate(376.00,750.39) rotate(-90)" x="-0.03" y="0" font-size="15.99" textLength="75.14" lengthAdjust="spacingAndGlyphs" fill="#000" color="#000">Amplitude</text>
<text transform="translate(376.00,668.94) rotate(-90)" x="-1.00" y="0" font-size="15.99" textLength="54.91" lengthAdjust="spacingAndGlyphs" fill="#000" color="#000">(P2/P1)</text>
<text transform="translate(376.00,608.96) rotate(-90)" x="-1.07" y="0" font-size="15.99" textLength="24.20" lengthAdjust="spacingAndGlyphs" fill="#000" color="#000">mV</text>
<text x="389.28" y="563.90" font-size="29.94" font-weight="bold" class="b" textLength="16.73" lengthAdjust="spacingAndGlyphs" fill="#000" color="#000">d</text>
<line x1="67.20" y1="327.10" x2="67.20" y2="497.10" stroke="#000" stroke-width="3.2" stroke-linecap="butt"/>
<line x1="61.00" y1="328.70" x2="67.20" y2="328.70" stroke="#000" stroke-width="3.2" stroke-linecap="butt"/>
<line x1="61.00" y1="370.40" x2="67.20" y2="370.40" stroke="#000" stroke-width="3.2" stroke-linecap="butt"/>
<line x1="61.00" y1="412.10" x2="67.20" y2="412.10" stroke="#000" stroke-width="3.2" stroke-linecap="butt"/>
<line x1="61.00" y1="453.80" x2="67.20" y2="453.80" stroke="#000" stroke-width="3.2" stroke-linecap="butt"/>
<line x1="61.00" y1="495.50" x2="320.00" y2="495.50" stroke="#000" stroke-width="3.2" stroke-linecap="butt"/>
<text x="35.57" y="332.60" font-size="15.99" textLength="22.98" lengthAdjust="spacingAndGlyphs" fill="#000" color="#000">2.0</text>
<text x="35.64" y="374.30" font-size="15.99" textLength="22.98" lengthAdjust="spacingAndGlyphs" fill="#000" color="#000">1.8</text>
<text x="35.64" y="416.00" font-size="15.99" textLength="22.99" lengthAdjust="spacingAndGlyphs" fill="#000" color="#000">1.6</text>
<text x="35.65" y="457.70" font-size="15.99" textLength="22.72" lengthAdjust="spacingAndGlyphs" fill="#000" color="#000">1.4</text>
<text x="35.66" y="499.40" font-size="15.99" textLength="22.55" lengthAdjust="spacingAndGlyphs" fill="#000" color="#000">1.2</text>
<rect x="88.60" y="381.30" width="83.40" height="39.40" fill="none" stroke="#000" stroke-width="2.3"/>
<line x1="88.60" y1="405.10" x2="172.00" y2="405.10" stroke="#000" stroke-width="2.3" stroke-linecap="butt"/>
<line x1="130.30" y1="420.70" x2="130.30" y2="431.00" stroke="#000" stroke-width="2.3" stroke-linecap="butt"/>
<line x1="108.50" y1="431.00" x2="152.50" y2="431.00" stroke="#000" stroke-width="2.3" stroke-linecap="butt"/>
<line x1="108.50" y1="380.50" x2="152.50" y2="380.50" stroke="#000" stroke-width="2.8" stroke-linecap="butt"/>
<rect x="214.00" y="421.00" width="83.40" height="26.20" fill="none" stroke="#da291c" stroke-width="2.3"/>
<line x1="214.00" y1="435.80" x2="297.40" y2="435.80" stroke="#da291c" stroke-width="2.3" stroke-linecap="butt"/>
<line x1="255.50" y1="447.20" x2="255.50" y2="451.70" stroke="#da291c" stroke-width="2.3" stroke-linecap="butt"/>
<line x1="233.70" y1="451.70" x2="278.00" y2="451.70" stroke="#da291c" stroke-width="2.3" stroke-linecap="butt"/>
<line x1="233.70" y1="420.30" x2="278.00" y2="420.30" stroke="#da291c" stroke-width="2.8" stroke-linecap="butt"/>
<line x1="134.80" y1="344.50" x2="272.20" y2="344.50" stroke="#000" stroke-width="2.6" stroke-linecap="butt"/>
<path d="M202.40,330.00 L202.40,323.20 M202.40,330.00 L208.87,327.90 M202.40,330.00 L206.40,335.50 M202.40,330.00 L198.40,335.50 M202.40,330.00 L195.93,327.90 " stroke="#000" stroke-width="3.0" fill="none"/>
<text transform="translate(12.70,498.10) rotate(-90)" x="-0.03" y="0" font-size="16.42" textLength="58.83" lengthAdjust="spacingAndGlyphs" fill="#000" color="#000">Average</text>
<text transform="translate(12.70,433.30) rotate(-90)" x="-1.08" y="0" font-size="16.42" textLength="25.61" lengthAdjust="spacingAndGlyphs" fill="#000" color="#000">PPF</text>
<text transform="translate(12.70,403.90) rotate(-90)" x="-0.73" y="0" font-size="16.42" textLength="82.64" lengthAdjust="spacingAndGlyphs" fill="#000" color="#000">amplitudes</text>
<text transform="translate(30.30,476.70) rotate(-90)" x="-0.67" y="0" font-size="16.42" textLength="46.54" lengthAdjust="spacingAndGlyphs" fill="#000" color="#000">across</text>
<text transform="translate(30.30,425.90) rotate(-90)" x="-0.72" y="0" font-size="16.42" textLength="16.95" lengthAdjust="spacingAndGlyphs" fill="#000" color="#000">all</text>
<text transform="translate(30.30,404.50) rotate(-90)" x="-1.14" y="0" font-size="16.42" textLength="63.56" lengthAdjust="spacingAndGlyphs" fill="#000" color="#000">intervals</text>
<line x1="418.80" y1="334.10" x2="418.80" y2="504.90" stroke="#000" stroke-width="3.2" stroke-linecap="butt"/>
<line x1="413.00" y1="335.70" x2="418.80" y2="335.70" stroke="#000" stroke-width="3.2" stroke-linecap="butt"/>
<line x1="413.00" y1="377.60" x2="418.80" y2="377.60" stroke="#000" stroke-width="3.2" stroke-linecap="butt"/>
<line x1="413.00" y1="419.50" x2="418.80" y2="419.50" stroke="#000" stroke-width="3.2" stroke-linecap="butt"/>
<line x1="413.00" y1="461.40" x2="418.80" y2="461.40" stroke="#000" stroke-width="3.2" stroke-linecap="butt"/>
<line x1="413.00" y1="503.30" x2="672.00" y2="503.30" stroke="#000" stroke-width="3.2" stroke-linecap="butt"/>
<text x="387.57" y="340.00" font-size="15.99" textLength="22.98" lengthAdjust="spacingAndGlyphs" fill="#000" color="#000">2.0</text>
<text x="387.64" y="381.90" font-size="15.99" textLength="22.98" lengthAdjust="spacingAndGlyphs" fill="#000" color="#000">1.8</text>
<text x="387.64" y="423.80" font-size="15.99" textLength="22.99" lengthAdjust="spacingAndGlyphs" fill="#000" color="#000">1.6</text>
<text x="387.68" y="465.70" font-size="15.99" textLength="22.18" lengthAdjust="spacingAndGlyphs" fill="#000" color="#000">1.4</text>
<text x="387.66" y="507.60" font-size="15.99" textLength="22.55" lengthAdjust="spacingAndGlyphs" fill="#000" color="#000">1.2</text>
<rect x="440.80" y="353.30" width="83.20" height="50.20" fill="none" stroke="#000" stroke-width="2.3"/>
<line x1="440.80" y1="386.10" x2="524.00" y2="386.10" stroke="#000" stroke-width="2.3" stroke-linecap="butt"/>
<line x1="482.10" y1="403.50" x2="482.10" y2="413.80" stroke="#000" stroke-width="2.3" stroke-linecap="butt"/>
<line x1="460.20" y1="413.80" x2="504.20" y2="413.80" stroke="#000" stroke-width="2.3" stroke-linecap="butt"/>
<line x1="482.10" y1="348.00" x2="482.10" y2="353.30" stroke="#000" stroke-width="2.3" stroke-linecap="butt"/>
<line x1="460.20" y1="348.00" x2="504.20" y2="348.00" stroke="#000" stroke-width="2.3" stroke-linecap="butt"/>
<rect x="566.30" y="407.80" width="83.20" height="33.80" fill="none" stroke="#da291c" stroke-width="2.3"/>
<line x1="566.30" y1="430.80" x2="649.50" y2="430.80" stroke="#da291c" stroke-width="2.3" stroke-linecap="butt"/>
<line x1="607.50" y1="441.60" x2="607.50" y2="450.00" stroke="#da291c" stroke-width="2.3" stroke-linecap="butt"/>
<line x1="586.10" y1="450.00" x2="629.80" y2="450.00" stroke="#da291c" stroke-width="2.3" stroke-linecap="butt"/>
<line x1="586.10" y1="407.20" x2="629.80" y2="407.20" stroke="#da291c" stroke-width="2.8" stroke-linecap="butt"/>
<line x1="487.10" y1="334.80" x2="624.00" y2="334.80" stroke="#000" stroke-width="2.6" stroke-linecap="butt"/>
<path d="M554.50,321.00 L554.50,314.20 M554.50,321.00 L560.97,318.90 M554.50,321.00 L558.50,326.50 M554.50,321.00 L550.50,326.50 M554.50,321.00 L548.03,318.90 " stroke="#000" stroke-width="3.0" fill="none"/>
<text transform="translate(364.30,506.00) rotate(-90)" x="-0.03" y="0" font-size="16.42" textLength="59.17" lengthAdjust="spacingAndGlyphs" fill="#000" color="#000">Average</text>
<text transform="translate(364.30,440.83) rotate(-90)" x="-1.09" y="0" font-size="16.42" textLength="25.75" lengthAdjust="spacingAndGlyphs" fill="#000" color="#000">PPF</text>
<text transform="translate(364.30,411.26) rotate(-90)" x="-0.73" y="0" font-size="16.42" textLength="83.11" lengthAdjust="spacingAndGlyphs" fill="#000" color="#000">amplitudes</text>
<text transform="translate(381.90,484.50) rotate(-90)" x="-0.67" y="0" font-size="16.42" textLength="46.72" lengthAdjust="spacingAndGlyphs" fill="#000" color="#000">across</text>
<text transform="translate(381.90,433.51) rotate(-90)" x="-0.72" y="0" font-size="16.42" textLength="17.02" lengthAdjust="spacingAndGlyphs" fill="#000" color="#000">all</text>
<text transform="translate(381.90,412.03) rotate(-90)" x="-1.15" y="0" font-size="16.42" textLength="63.80" lengthAdjust="spacingAndGlyphs" fill="#000" color="#000">intervals</text>
<line x1="70.60" y1="876.40" x2="70.60" y2="1048.00" stroke="#000" stroke-width="3.2" stroke-linecap="butt"/>
<line x1="64.20" y1="878.00" x2="70.60" y2="878.00" stroke="#000" stroke-width="3.2" stroke-linecap="butt"/>
<line x1="64.20" y1="920.10" x2="70.60" y2="920.10" stroke="#000" stroke-width="3.2" stroke-linecap="butt"/>
<line x1="64.20" y1="962.20" x2="70.60" y2="962.20" stroke="#000" stroke-width="3.2" stroke-linecap="butt"/>
<line x1="64.20" y1="1004.30" x2="70.60" y2="1004.30" stroke="#000" stroke-width="3.2" stroke-linecap="butt"/>
<line x1="64.20" y1="1046.40" x2="325.10" y2="1046.40" stroke="#000" stroke-width="3.2" stroke-linecap="butt"/>
<text x="38.07" y="882.50" font-size="15.99" textLength="22.98" lengthAdjust="spacingAndGlyphs" fill="#000" color="#000">2.0</text>
<text x="37.61" y="924.60" font-size="15.99" textLength="23.52" lengthAdjust="spacingAndGlyphs" fill="#000" color="#000">1.8</text>
<text x="37.61" y="966.70" font-size="15.99" textLength="23.53" lengthAdjust="spacingAndGlyphs" fill="#000" color="#000">1.6</text>
<text x="37.63" y="1008.80" font-size="15.99" textLength="23.27" lengthAdjust="spacingAndGlyphs" fill="#000" color="#000">1.4</text>
<text x="37.60" y="1050.90" font-size="15.99" textLength="23.65" lengthAdjust="spacingAndGlyphs" fill="#000" color="#000">1.2</text>
<rect x="91.90" y="931.30" width="84.00" height="39.40" fill="none" stroke="#000" stroke-width="2.3"/>
<line x1="91.90" y1="955.70" x2="175.90" y2="955.70" stroke="#000" stroke-width="2.3" stroke-linecap="butt"/>
<line x1="133.90" y1="970.70" x2="133.90" y2="981.70" stroke="#000" stroke-width="2.3" stroke-linecap="butt"/>
<line x1="112.00" y1="981.70" x2="156.20" y2="981.70" stroke="#000" stroke-width="2.3" stroke-linecap="butt"/>
<line x1="112.00" y1="930.60" x2="156.20" y2="930.60" stroke="#000" stroke-width="2.8" stroke-linecap="butt"/>
<rect x="218.40" y="895.70" width="83.90" height="50.60" fill="none" stroke="#da291c" stroke-width="2.3"/>
<line x1="218.40" y1="928.80" x2="302.30" y2="928.80" stroke="#da291c" stroke-width="2.3" stroke-linecap="butt"/>
<line x1="260.30" y1="946.30" x2="260.30" y2="956.60" stroke="#da291c" stroke-width="2.3" stroke-linecap="butt"/>
<line x1="238.00" y1="956.60" x2="282.70" y2="956.60" stroke="#da291c" stroke-width="2.3" stroke-linecap="butt"/>
<line x1="260.30" y1="890.40" x2="260.30" y2="895.70" stroke="#da291c" stroke-width="2.3" stroke-linecap="butt"/>
<line x1="238.00" y1="890.40" x2="282.70" y2="890.40" stroke="#da291c" stroke-width="2.3" stroke-linecap="butt"/>
<line x1="125.80" y1="876.00" x2="263.70" y2="876.00" stroke="#000" stroke-width="2.6" stroke-linecap="butt"/>
<text x="182.49" y="870.20" font-size="16.09" textLength="27.05" lengthAdjust="spacingAndGlyphs" fill="#000" color="#000">n.s.</text>
<text transform="translate(15.30,1049.10) rotate(-90)" x="-0.03" y="0" font-size="16.42" textLength="58.73" lengthAdjust="spacingAndGlyphs" fill="#000" color="#000">Average</text>
<text transform="translate(15.30,984.41) rotate(-90)" x="-1.08" y="0" font-size="16.42" textLength="25.56" lengthAdjust="spacingAndGlyphs" fill="#000" color="#000">PPF</text>
<text transform="translate(15.30,955.06) rotate(-90)" x="-0.72" y="0" font-size="16.42" textLength="82.50" lengthAdjust="spacingAndGlyphs" fill="#000" color="#000">amplitudes</text>
<text transform="translate(32.90,1028.00) rotate(-90)" x="-0.68" y="0" font-size="16.42" textLength="46.96" lengthAdjust="spacingAndGlyphs" fill="#000" color="#000">across</text>
<text transform="translate(32.90,976.75) rotate(-90)" x="-0.73" y="0" font-size="16.42" textLength="17.11" lengthAdjust="spacingAndGlyphs" fill="#000" color="#000">all</text>
<text transform="translate(32.90,955.15) rotate(-90)" x="-1.15" y="0" font-size="16.42" textLength="64.13" lengthAdjust="spacingAndGlyphs" fill="#000" color="#000">intervals</text>
<line x1="415.40" y1="869.80" x2="415.40" y2="1044.30" stroke="#000" stroke-width="3.2" stroke-linecap="butt"/>
<line x1="409.30" y1="871.40" x2="415.40" y2="871.40" stroke="#000" stroke-width="3.2" stroke-linecap="butt"/>
<line x1="409.30" y1="914.23" x2="415.40" y2="914.23" stroke="#000" stroke-width="3.2" stroke-linecap="butt"/>
<line x1="409.30" y1="957.05" x2="415.40" y2="957.05" stroke="#000" stroke-width="3.2" stroke-linecap="butt"/>
<line x1="409.30" y1="999.88" x2="415.40" y2="999.88" stroke="#000" stroke-width="3.2" stroke-linecap="butt"/>
<line x1="409.30" y1="1042.70" x2="675.10" y2="1042.70" stroke="#000" stroke-width="3.2" stroke-linecap="butt"/>
<text x="383.20" y="875.90" font-size="15.99" textLength="22.23" lengthAdjust="spacingAndGlyphs" fill="#000" color="#000">2.0</text>
<text x="382.75" y="918.73" font-size="15.99" textLength="22.76" lengthAdjust="spacingAndGlyphs" fill="#000" color="#000">1.8</text>
<text x="382.75" y="961.55" font-size="15.99" textLength="22.77" lengthAdjust="spacingAndGlyphs" fill="#000" color="#000">1.6</text>
<text x="382.77" y="1004.38" font-size="15.99" textLength="22.51" lengthAdjust="spacingAndGlyphs" fill="#000" color="#000">1.4</text>
<text x="382.75" y="1047.20" font-size="15.99" textLength="22.88" lengthAdjust="spacingAndGlyphs" fill="#000" color="#000">1.2</text>
<rect x="437.20" y="966.10" width="85.60" height="26.60" fill="none" stroke="#000" stroke-width="2.3"/>
<line x1="437.20" y1="981.30" x2="522.80" y2="981.30" stroke="#000" stroke-width="2.3" stroke-linecap="butt"/>
<line x1="480.30" y1="992.70" x2="480.30" y2="997.50" stroke="#000" stroke-width="2.3" stroke-linecap="butt"/>
<line x1="457.70" y1="997.50" x2="502.80" y2="997.50" stroke="#000" stroke-width="2.3" stroke-linecap="butt"/>
<line x1="457.70" y1="965.50" x2="502.80" y2="965.50" stroke="#000" stroke-width="2.8" stroke-linecap="butt"/>
<rect x="566.20" y="944.70" width="85.70" height="34.30" fill="none" stroke="#da291c" stroke-width="2.3"/>
<line x1="566.20" y1="968.80" x2="651.90" y2="968.80" stroke="#da291c" stroke-width="2.3" stroke-linecap="butt"/>
<line x1="609.20" y1="979.00" x2="609.20" y2="988.30" stroke="#da291c" stroke-width="2.3" stroke-linecap="butt"/>
<line x1="586.30" y1="988.30" x2="631.80" y2="988.30" stroke="#da291c" stroke-width="2.3" stroke-linecap="butt"/>
<line x1="586.30" y1="944.00" x2="631.80" y2="944.00" stroke="#da291c" stroke-width="2.8" stroke-linecap="butt"/>
<line x1="472.00" y1="879.20" x2="612.90" y2="879.20" stroke="#000" stroke-width="2.6" stroke-linecap="butt"/>
<text x="529.49" y="872.80" font-size="16.09" textLength="27.05" lengthAdjust="spacingAndGlyphs" fill="#000" color="#000">n.s.</text>
<text transform="translate(364.10,1046.30) rotate(-90)" x="-0.03" y="0" font-size="16.42" textLength="58.97" lengthAdjust="spacingAndGlyphs" fill="#000" color="#000">Average</text>
<text transform="translate(364.10,981.35) rotate(-90)" x="-1.08" y="0" font-size="16.42" textLength="25.67" lengthAdjust="spacingAndGlyphs" fill="#000" color="#000">PPF</text>
<text transform="translate(364.10,951.89) rotate(-90)" x="-0.73" y="0" font-size="16.42" textLength="82.83" lengthAdjust="spacingAndGlyphs" fill="#000" color="#000">amplitudes</text>
<text transform="translate(381.70,1024.00) rotate(-90)" x="-0.68" y="0" font-size="16.42" textLength="46.85" lengthAdjust="spacingAndGlyphs" fill="#000" color="#000">across</text>
<text transform="translate(381.70,972.86) rotate(-90)" x="-0.72" y="0" font-size="16.42" textLength="17.07" lengthAdjust="spacingAndGlyphs" fill="#000" color="#000">all</text>
<text transform="translate(381.70,951.32) rotate(-90)" x="-1.15" y="0" font-size="16.42" textLength="63.99" lengthAdjust="spacingAndGlyphs" fill="#000" color="#000">intervals</text>
</svg>
</body></html>
